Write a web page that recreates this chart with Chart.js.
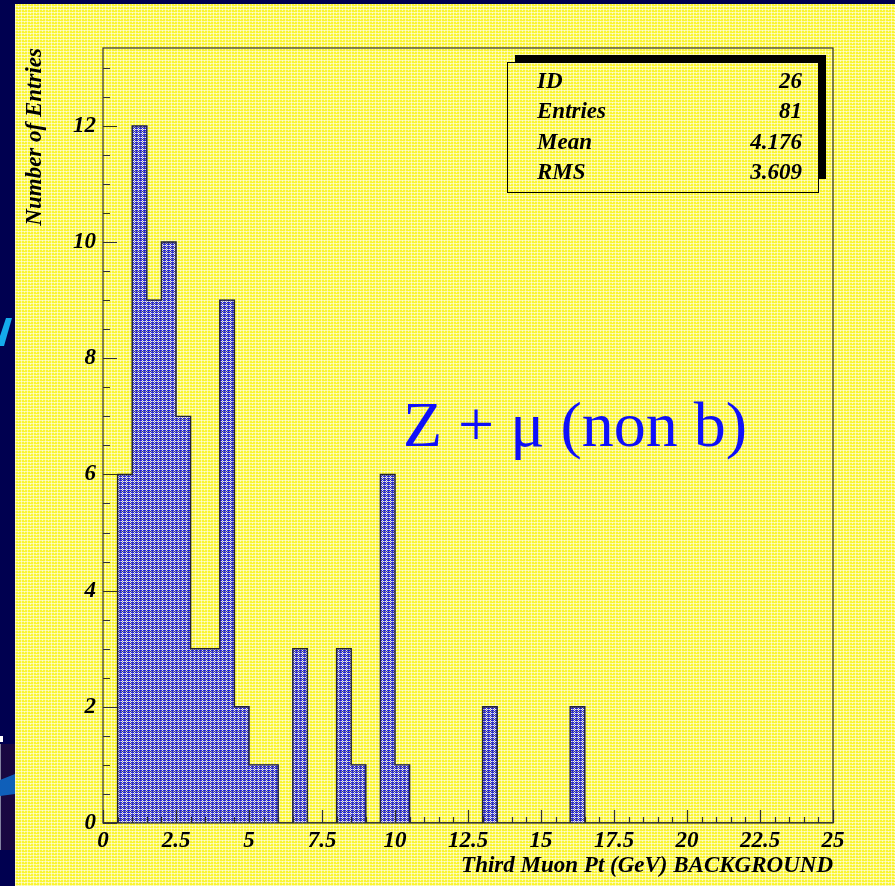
<!DOCTYPE html>
<html>
<head>
<meta charset="utf-8">
<script src="https://cdn.jsdelivr.net/npm/chart.js@4"></script>
<style>
  html, body { margin: 0; padding: 0; background: #000050; }
</style>
</head>
<body>
<canvas id="histo" width="895" height="886"></canvas>
<script>
// third muon pt, background sample (Z + mu, non b)
const binLow = 0;
const binWidth = 0.5;
const counts = [
  0, 6, 12, 9, 10, 7, 3, 3, 9, 2,   // 0 - 5
  1, 1, 0, 3, 0, 0, 3, 1, 0, 6,     // 5 - 10
  1, 0, 0, 0, 0, 0, 2, 0, 0, 0,     // 10 - 15
  0, 0, 2, 0, 0, 0, 0, 0, 0, 0,     // 15 - 20
  0, 0, 0, 0, 0, 0, 0, 0, 0, 0      // 20 - 25
];
const xTickValues = [0, 2.5, 5, 7.5, 10, 12.5, 15, 17.5, 20, 22.5, 25];
const yTickValues = [0, 2, 4, 6, 8, 10, 12];
const statNames = ["ID", "Entries", "Mean", "RMS"];
const statValues = ["26", "81", "4.176", "3.609"];
const xTitle = "Third Muon Pt (GeV) BACKGROUND";
const yTitle = "Number of Entries";
const label = "Z + \u03bc (non b)";
const xMax = 25;
const yMax = 13.34;

const serif = "'Liberation Serif', 'DejaVu Serif', serif";

// bars and line outline built from the counts
const barData = counts.map((c, i) => ({ x: binLow + (i + 0.5) * binWidth, y: c }));
const outline = counts.map((c, i) => ({ x: binLow + i * binWidth, y: c }));
outline.push({ x: binLow + counts.length * binWidth, y: 0 });

function makeTile(size, rows) {
  const c = document.createElement("canvas");
  c.width = size; c.height = size;
  const g = c.getContext("2d");
  rows.forEach((row, y) => row.forEach((col, x) => { g.fillStyle = col; g.fillRect(x, y, 1, 1); }));
  return g.createPattern(c, "repeat");
}
const ctx = document.getElementById("histo").getContext("2d");

const B = "rgb(35,35,220)", W = "rgb(235,235,245)", G = "rgb(145,145,180)", D = "rgb(55,55,140)";
const hatch = makeTile(4, [
  [B, B, W, B],
  [G, W, G, W],
  [B, B, W, B],
  [D, G, D, G]
]);
const Y = "rgb(250,245,50)", L = "rgb(252,250,160)", P = "rgb(253,252,210)";
const paper = makeTile(6, [
  [P, L, L, P, L, L],
  [L, Y, Y, L, Y, Y],
  [Y, Y, Y, L, Y, Y],
  [P, L, L, P, L, L],
  [L, Y, Y, L, Y, Y],
  [Y, Y, Y, L, Y, Y]
]);

const backdrop = {
  id: "backdrop",
  beforeDraw(chart) {
    const c = chart.ctx;
    c.save();
    c.fillStyle = "#000050";
    c.fillRect(0, 0, chart.width, chart.height);
    // bits of the slide behind
    c.fillStyle = "rgb(20,170,235)";
    c.beginPath();
    c.moveTo(6, 318); c.lineTo(12, 318); c.lineTo(4, 346); c.lineTo(0, 346); c.lineTo(0, 336);
    c.closePath(); c.fill();
    c.fillStyle = "#ffffff";
    c.fillRect(0, 736, 3, 6);
    c.fillStyle = "rgb(25,8,65)";
    c.fillRect(0, 744, 15, 106);
    c.fillStyle = "rgb(130,130,160)";
    c.fillRect(0, 744, 1, 106);
    c.fillStyle = "rgb(15,95,185)";
    c.beginPath();
    c.moveTo(0, 780); c.lineTo(15, 774); c.lineTo(15, 794); c.lineTo(0, 796);
    c.closePath(); c.fill();
    c.fillStyle = paper;
    c.fillRect(15, 4, chart.width - 15, chart.height - 4);
    c.restore();
  }
};

const frame = {
  id: "frame",
  afterDatasetsDraw(chart) {
    const c = chart.ctx;
    const a = chart.chartArea;
    const xs = chart.scales.x, ys = chart.scales.y;
    c.save();
    c.strokeStyle = "#303030";
    c.lineWidth = 1.2;
    c.strokeRect(a.left, a.top, a.right - a.left, a.bottom - a.top);
    c.beginPath();
    for (let v = 0; v <= xMax + 1e-9; v += 0.5) {
      const px = Math.round(xs.getPixelForValue(v)) + 0.5;
      const len = Math.abs(v / 2.5 - Math.round(v / 2.5)) < 1e-6 ? 13 : 6;
      c.moveTo(px, a.bottom); c.lineTo(px, a.bottom - len);
    }
    for (let v = 0; v <= yMax; v += 0.5) {
      const py = Math.round(ys.getPixelForValue(v)) + 0.5;
      const len = Math.abs(v / 2 - Math.round(v / 2)) < 1e-6 ? 14 : 7;
      c.moveTo(a.left, py); c.lineTo(a.left + len, py);
    }
    c.stroke();

    // big label
    c.fillStyle = "rgb(15,15,250)";
    c.font = "64px " + serif;
    c.textBaseline = "alphabetic";
    c.fillText(label, 403, 446);

    // stats box
    c.fillStyle = "#000000";
    c.fillRect(515, 55, 311, 124);
    c.fillStyle = paper;
    c.fillRect(507, 62, 311, 130);
    c.strokeStyle = "#000000";
    c.lineWidth = 1;
    c.strokeRect(507.5, 62.5, 311, 130);
    c.fillStyle = "#000000";
    c.font = "bold italic 23px " + serif;
    statNames.forEach((n, i) => {
      const by = 88 + i * 30.3;
      c.textAlign = "left";
      c.fillText(n, 537, by);
      c.textAlign = "right";
      c.fillText(statValues[i], 802, by);
    });
    c.restore();
  }
};

const tickFont = { family: serif, size: 23, weight: "bold", style: "italic" };
const titleFont = { family: serif, size: 23, weight: "bold", style: "italic" };

new Chart(ctx, {
  type: "bar",
  data: {
    datasets: [
      {
        type: "line",
        data: outline,
        stepped: "before",
        borderColor: "#202038",
        borderWidth: 1.4,
        pointRadius: 0,
        fill: false,
        order: 0
      },
      {
        type: "bar",
        data: barData,
        backgroundColor: hatch,
        borderWidth: 0,
        barPercentage: 1,
        categoryPercentage: 1,
        order: 1
      }
    ]
  },
  options: {
    responsive: false,
    animation: false,
    devicePixelRatio: 1,
    layout: { padding: { left: 0, top: 48, right: 62, bottom: 0 } },
    plugins: {
      legend: { display: false },
      tooltip: { enabled: false }
    },
    scales: {
      x: {
        type: "linear",
        offset: false,
        min: 0,
        max: xMax,
        grid: { display: false, drawTicks: false },
        border: { display: false },
        afterBuildTicks: s => { s.ticks = xTickValues.map(v => ({ value: v })); },
        afterFit: s => { s.height = 63; },
        ticks: {
          font: tickFont,
          color: "#000000",
          padding: 4,
          maxRotation: 0,
          autoSkip: false
        },
        title: {
          display: true,
          text: xTitle,
          align: "end",
          font: titleFont,
          color: "#000000",
          padding: { top: 0, bottom: 6 }
        }
      },
      y: {
        type: "linear",
        min: 0,
        max: yMax,
        grid: { display: false, drawTicks: false },
        border: { display: false },
        afterBuildTicks: s => { s.ticks = yTickValues.map(v => ({ value: v })); },
        afterFit: s => { s.width = 103; },
        ticks: {
          font: tickFont,
          color: "#000000",
          padding: 7
        },
        title: {
          display: true,
          text: yTitle,
          align: "end",
          font: titleFont,
          color: "#000000",
          padding: { top: 21, bottom: 0 }
        }
      }
    }
  },
  plugins: [backdrop, frame]
});
</script>
</body>
</html>
